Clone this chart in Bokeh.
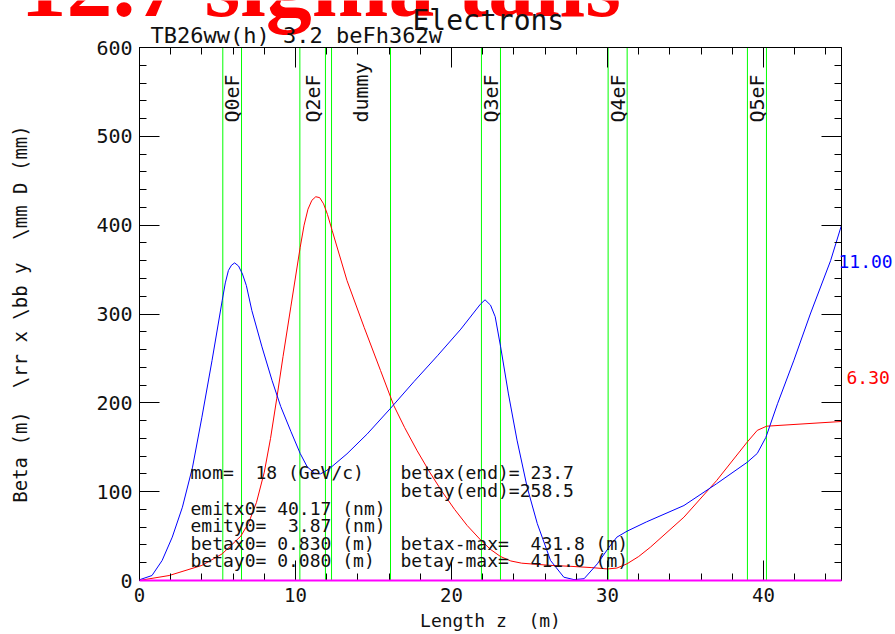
from bokeh.plotting import figure
from bokeh.models import (Range1d, SingleIntervalTicker, LinearAxis, Label,
                          ColumnDataSource, CustomJSTickFormatter)
from bokeh.core.properties import value
from bokeh.embed import file_html
from bokeh.resources import INLINE
from math import pi

# ---------------- data ----------------
z_bx = [0, 0.8, 1.45, 2.1, 2.75, 3.4, 4.0, 4.65, 5.3, 5.5, 5.7, 5.9, 6.1, 6.35, 6.6,
        6.85, 7.2, 7.85, 8.5, 9.05, 9.7, 10.3, 10.75, 11.2, 11.6, 11.92, 12.25, 13.3,
        14.6, 16.1, 17.6, 19.1, 20.6, 21.85, 22.15, 22.5, 22.8, 23.15, 23.65, 24.2,
        24.85, 25.5, 26.35, 27.2, 27.85, 28.5, 29.35, 30.1, 30.6, 31.25, 32.5, 34.9,
        37.0, 38.95, 39.6, 40.15, 40.9, 41.95, 43.0, 44.3, 45.0]
beta_x = [0.83, 5.6, 22.5, 48.8, 82.5, 127.6, 183.8, 247.7, 315, 335, 349, 355, 357.5,
          354, 345, 332, 304, 263, 225, 196, 168, 143, 128, 121, 120, 123, 127, 142.6,
          165, 194, 224, 253, 283, 311, 316, 310, 297, 263, 210, 158, 105, 64, 22.5,
          3.7, 1.0, 2.0, 18.8, 37.5, 48.8, 55.5, 66, 84.4, 109, 133, 143, 161, 199,
          248, 300, 360, 400]

z_by = [0, 1.9, 4.0, 5.3, 6.5, 7.0, 7.5, 8.0, 8.4, 8.8, 9.2, 9.7, 10.3, 10.55, 10.8,
        11.05, 11.3, 11.55, 11.8, 12.05, 12.35, 13.3, 14.4, 15.45, 16.3, 17.0, 17.8,
        18.6, 19.4, 20.2, 21.0, 21.9, 22.5, 23.14, 23.8, 24.5, 26.35, 27.6, 29.0,
        30.0, 30.6, 31.25, 32.0, 32.75, 34.9, 37.0, 38.95, 39.6, 40.2, 45.0]
beta_y = [0.08, 5.6, 17, 30, 50, 65, 88, 122, 160, 205, 252, 308, 375, 400, 418, 428,
          432, 431, 424, 412, 394, 337.7, 285, 236.4, 197, 172, 146, 122, 100, 80, 62,
          45, 35, 27, 22, 19.5, 17, 16, 14.5, 13, 14, 18.8, 27, 37.5, 71.3, 112.6,
          155.7, 169, 173.7, 179]

z_disp = [0, 45]
disp = [0, 0]

elem_names = ["Q0eF", "Q2eF", "dummy", "Q3eF", "Q4eF", "Q5eF"]
elem_start = [5.34, 10.28, 12.31, 21.92, 30.04, 38.97]
elem_end = [6.54, 11.92, 16.09, 23.14, 31.26, 40.19]

NB = "\u00a0"
info_left = ["mom=" + NB * 2 + "18 (GeV/c)", "", "emitx0= 40.17 (nm)",
             "emity0=" + NB * 2 + "3.87 (nm)", "betax0= 0.830 (m)", "betay0= 0.080 (m)"]
info_right = ["betax(end)= 23.7", "betay(end)=258.5", "", "",
              "betax-max=" + NB * 2 + "431.8 (m)", "betay-max=" + NB * 2 + "411.0 (m)"]

title_text = "12.7 sigma tails"
subtitle_text = "Electrons"
run_text = "TB26ww(h) 3.2 beFh362w"
tune_x = "11.00"
tune_y = "6.30"
x_title = "Length z" + NB * 2 + "(m)"
y_title = "Beta (m)" + NB * 2 + r"\rr x \bb y" + NB * 2 + r"\mm D (mm)"

z_lo, z_hi = 0, 45
b_lo, b_hi = 0, 600

MONO = "DejaVu Sans Mono"

# ---------------- geometry (page pixels) ----------------
W, H = 895, 634
FX0, FX1, FY0, FY1 = 139, 841, 47, 580       # plot box
kx = (FX1 - FX0) / (z_hi - z_lo)
ky = (FY1 - FY0) / (b_hi - b_lo)


def sx(px):
    return z_lo + (px - FX0) / kx


def sy(py):
    return b_lo + (FY1 - py) / ky


p = figure(width=W, height=H, output_backend="svg", toolbar_location=None,
           x_range=Range1d(sx(0), sx(W)), y_range=Range1d(sy(H), sy(0)),
           min_border=0)
p.background_fill_color = "white"
p.border_fill_color = "white"
p.grid.visible = False
p.outline_line_color = None

xa = p.xaxis[0]
ya = p.yaxis[0]
xa.ticker = SingleIntervalTicker(interval=10, num_minor_ticks=5)
ya.ticker = SingleIntervalTicker(interval=100, num_minor_ticks=5)
xa.fixed_location = b_lo
ya.fixed_location = z_lo
xa.bounds = (z_lo, z_hi)
ya.bounds = (b_lo, b_hi)

for ax in (xa, ya):
    ax.major_tick_in = 20
    ax.major_tick_out = 0
    ax.minor_tick_in = 7
    ax.minor_tick_out = 0
    ax.axis_line_color = "black"
    ax.major_tick_line_color = "black"
    ax.minor_tick_line_color = "black"
    ax.major_label_text_font = MONO
    ax.major_label_text_color = "#111111"
    ax.axis_label_text_font = MONO
    ax.axis_label_text_font_style = "normal"
    ax.axis_label_text_color = "#111111"

xa.major_label_text_font_size = "19px"
ya.major_label_text_font_size = "20px"
xa.axis_label_text_font_size = "18px"
ya.axis_label_text_font_size = "19px"
xa.axis_label = x_title
ya.axis_label = y_title
xa.major_label_standoff = 7
ya.major_label_standoff = 7
xa.axis_label_standoff = 5
ya.axis_label_standoff = 62

blank = CustomJSTickFormatter(code="return ''")
top_ax = LinearAxis(ticker=SingleIntervalTicker(interval=10, num_minor_ticks=5),
                    formatter=blank, fixed_location=b_hi, bounds=(z_lo, z_hi))
right_ax = LinearAxis(ticker=SingleIntervalTicker(interval=100, num_minor_ticks=5),
                      formatter=blank, fixed_location=z_hi, bounds=(b_lo, b_hi))
for ax in (top_ax, right_ax):
    ax.major_tick_in = 20
    ax.major_tick_out = 0
    ax.minor_tick_in = 7
    ax.minor_tick_out = 0
    ax.major_label_standoff = 0
    ax.axis_line_color = "black"
    ax.major_tick_line_color = "black"
    ax.minor_tick_line_color = "black"
p.add_layout(top_ax, "above")
p.add_layout(right_ax, "right")

# element edges (green)
edges = elem_start + elem_end
p.segment(x0=edges, y0=[b_lo] * len(edges), x1=edges, y1=[b_hi] * len(edges),
          line_color="#00ff00", line_width=1)

# element names
mid = [(a + b) / 2 for a, b in zip(elem_start, elem_end)]
src = ColumnDataSource(dict(x=mid, y=[sy(122)] * len(mid), t=elem_names))
p.text(x="x", y="y", text="t", source=src, angle=pi / 2, text_align="left",
       text_baseline="middle", text_font=value(MONO), text_font_size="20px",
       text_color="#111111")

# curves
p.line(z_by, beta_y, line_color="#ff0000", line_width=1)
p.line(z_bx, beta_x, line_color="#0000ff", line_width=1)
p.line(z_disp, disp, line_color="#ff00ff", line_width=2, level="overlay")


def label(px, base_py, text, size, **kw):
    # place a text by its baseline (page pixels), anchored with a middle baseline
    p.add_layout(Label(x=sx(px), y=sy(base_py - 0.345 * size), text=text,
                       text_font_size=f"{size}px", text_baseline="middle", **kw))


# info text block
base_l = [478, 496, 514, 531.5, 549, 566.5]
for txt, py in zip(info_left, base_l):
    if txt:
        label(190, py, txt, 18, text_font=MONO, text_color="#111111")
for txt, py in zip(info_right, base_l):
    if txt:
        label(400, py, txt, 18, text_font=MONO, text_color="#111111")

# titles
label(20, 16, title_text, 92, text_font="Liberation Serif", text_font_style="bold",
      text_color="#ff0000")
label(412, 30, subtitle_text, 28, text_font=MONO, text_color="#111111")
label(150, 43, run_text, 22, text_font=MONO, text_color="#111111")

# tunes at the right
label(838, 267, tune_x, 18, text_font=MONO, text_color="#0000ff")
label(846, 383, tune_y, 18, text_font=MONO, text_color="#ff0000")

open("out.html", "w").write(file_html(p, INLINE))
